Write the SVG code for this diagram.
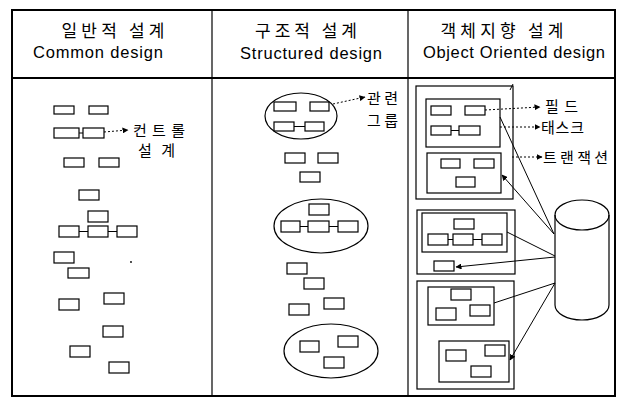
<svg xmlns="http://www.w3.org/2000/svg" width="619" height="398" viewBox="0 0 619 398">
<style>
.t{fill:none;stroke:#000;stroke-width:2}
.b{fill:#fff;stroke:#000;stroke-width:1.2}
.f{fill:none;stroke:#000;stroke-width:1.2}
.l{fill:none;stroke:#000;stroke-width:1}
.d{fill:none;stroke:#000;stroke-width:1;stroke-dasharray:2 2}
.ko{font-family:"Noto Sans CJK KR","Noto Sans",sans-serif;fill:#000}
.en{font-family:"Liberation Sans",Arial,sans-serif;fill:#000;font-size:16.5px}
.h{font-size:17px}
.s{font-size:15px}
</style>
<defs>
<marker id="ah" viewBox="0 0 6 6" refX="5.5" refY="3" markerWidth="6" markerHeight="6" markerUnits="userSpaceOnUse" orient="auto">
<path d="M0,0 L6,3 L0,6 Z" fill="#000"/>
</marker>
</defs>
<rect fill="#fff" width="619" height="398"/>
<g id="table">
<rect class="t" x="12" y="10" width="603" height="386"/>
<line class="t" x1="12" y1="78" x2="615" y2="78"/>
<line class="f" x1="212" y1="10" x2="212" y2="396"/>
<line class="f" x1="408" y1="10" x2="408" y2="396"/>
</g>
<g id="headers">
<text class="ko h" x="113" y="37" text-anchor="middle" textLength="103" lengthAdjust="spacing">일반적 설계</text>
<text class="en" x="98" y="58" text-anchor="middle" textLength="130" lengthAdjust="spacing">Common design</text>
<text class="ko h" x="306" y="37" text-anchor="middle" textLength="102" lengthAdjust="spacing">구조적 설계</text>
<text class="en" x="311" y="59" text-anchor="middle" textLength="142" lengthAdjust="spacing">Structured design</text>
<text class="ko h" x="502" y="37" text-anchor="middle" textLength="123" lengthAdjust="spacing">객체지향 설계</text>
<text class="en" x="514" y="58" text-anchor="middle" textLength="182" lengthAdjust="spacing">Object Oriented design</text>
</g>
<g id="common-design">
<rect class="b" x="54" y="106" width="20" height="8"/>
<rect class="b" x="89" y="106" width="19" height="8"/>
<rect class="b" x="54" y="128" width="25" height="10"/>
<rect class="b" x="83" y="128" width="21" height="10"/>
<rect class="b" x="64" y="158" width="20" height="9"/>
<rect class="b" x="99" y="158" width="20" height="9"/>
<rect class="b" x="79" y="190" width="20" height="10"/>
<rect class="b" x="88" y="211" width="20" height="11"/>
<rect class="b" x="59" y="226" width="20" height="11"/>
<rect class="b" x="88" y="226" width="20" height="11"/>
<rect class="b" x="117" y="226" width="20" height="11"/>
<rect class="b" x="54" y="252" width="20" height="11"/>
<rect class="b" x="68" y="268" width="21" height="10"/>
<circle cx="131" cy="262" r="0.9" fill="#000"/>
<rect class="b" x="59" y="299" width="20" height="11"/>
<rect class="b" x="104" y="293" width="20" height="11"/>
<rect class="b" x="103" y="326" width="20" height="11"/>
<rect class="b" x="70" y="346" width="20" height="11"/>
<rect class="b" x="109" y="362" width="20" height="11"/>
<text class="ko s" x="133" y="136" textLength="52" lengthAdjust="spacing">컨트롤</text>
<text class="ko s" x="138" y="156" textLength="37" lengthAdjust="spacing">설계</text>
</g>
<g id="structured-design">
<ellipse class="f" cx="301" cy="116" rx="36" ry="23"/>
<rect class="b" x="274" y="102" width="22" height="9"/>
<rect class="b" x="310" y="102" width="19" height="9"/>
<rect class="b" x="274" y="122" width="20" height="9"/>
<rect class="b" x="305" y="122" width="19" height="9"/>
<text class="ko s" x="367" y="104" textLength="31" lengthAdjust="spacing">관련</text>
<text class="ko s" x="367" y="126" textLength="31" lengthAdjust="spacing">그룹</text>
<rect class="b" x="285" y="153" width="20" height="10"/>
<rect class="b" x="318" y="153" width="20" height="10"/>
<rect class="b" x="300" y="172" width="20" height="10"/>
<ellipse class="f" cx="321" cy="226" rx="47" ry="27"/>
<rect class="b" x="309" y="204" width="20" height="11"/>
<rect class="b" x="281" y="221" width="19" height="11"/>
<rect class="b" x="308" y="221" width="21" height="11"/>
<rect class="b" x="338" y="221" width="20" height="11"/>
<rect class="b" x="287" y="263" width="20" height="11"/>
<rect class="b" x="304" y="278" width="20" height="11"/>
<rect class="b" x="289" y="304" width="20" height="11"/>
<rect class="b" x="324" y="298" width="20" height="11"/>
<ellipse class="f" cx="331" cy="351" rx="47" ry="27"/>
<rect class="b" x="300" y="341" width="19" height="11"/>
<rect class="b" x="338" y="336" width="20" height="11"/>
<rect class="b" x="324" y="357" width="20" height="11"/>
</g>
<g id="object-oriented-design">
<rect class="f" x="416" y="86" width="97" height="113"/>
<line class="l" x1="510" y1="90" x2="513" y2="84"/>
<rect class="f" x="426" y="99" width="74" height="48"/>
<rect class="b" x="431" y="106" width="20" height="9"/>
<rect class="b" x="465" y="106" width="20" height="9"/>
<rect class="b" x="431" y="126" width="20" height="9"/>
<rect class="b" x="459" y="126" width="21" height="9"/>
<rect class="f" x="427" y="153" width="74" height="40"/>
<rect class="b" x="441" y="159" width="19" height="9"/>
<rect class="b" x="474" y="159" width="20" height="9"/>
<rect class="b" x="456" y="177" width="19" height="10"/>
<text class="ko s" x="545" y="112" textLength="33" lengthAdjust="spacing">필드</text>
<text class="ko s" x="541" y="133" textLength="43" lengthAdjust="spacing">태스크</text>
<text class="ko s" x="543" y="163" textLength="65" lengthAdjust="spacing">트랜잭션</text>
<rect class="f" x="417" y="210" width="98" height="64"/>
<rect class="f" x="422" y="213" width="85" height="39"/>
<rect class="b" x="454" y="219" width="20" height="10"/>
<rect class="b" x="428" y="234" width="20" height="11"/>
<rect class="b" x="453" y="234" width="20" height="11"/>
<rect class="b" x="482" y="234" width="20" height="11"/>
<rect class="b" x="434" y="261" width="20" height="10"/>
<rect class="f" x="417" y="281" width="97" height="108"/>
<rect class="f" x="428" y="287" width="66" height="38"/>
<rect class="b" x="451" y="289" width="20" height="11"/>
<rect class="b" x="436" y="308" width="20" height="12"/>
<rect class="b" x="470" y="305" width="20" height="11"/>
<rect class="f" x="439" y="341" width="70" height="41"/>
<rect class="b" x="446" y="350" width="20" height="11"/>
<rect class="b" x="485" y="345" width="20" height="11"/>
<rect class="b" x="471" y="366" width="20" height="11"/>
</g>
<g id="database">
<path class="f" d="M555,215 A27,15 0 0 1 609,215 V305 A27,15 0 0 1 555,305 Z"/>
<path class="f" d="M555,215 A27,15 0 0 0 609,215"/>
</g>
<g id="connectors">
<line class="l" x1="79" y1="133" x2="83" y2="133"/>
<line class="d" x1="104" y1="132" x2="128" y2="130" marker-end="url(#ah)"/>
<line class="l" x1="79" y1="231.5" x2="88" y2="231.5"/>
<line class="l" x1="108" y1="231.5" x2="117" y2="231.5"/>
<line class="l" x1="294" y1="126.5" x2="305" y2="126.5"/>
<line class="d" x1="333" y1="104" x2="365" y2="97" marker-end="url(#ah)"/>
<line class="l" x1="300" y1="226.5" x2="308" y2="226.5"/>
<line class="l" x1="329" y1="226.5" x2="338" y2="226.5"/>
<line class="l" x1="451" y1="130.5" x2="459" y2="130.5"/>
<line class="d" x1="485" y1="110" x2="540" y2="107" marker-end="url(#ah)"/>
<line class="d" x1="500" y1="127" x2="540" y2="127" marker-end="url(#ah)"/>
<line class="d" x1="512" y1="157" x2="542" y2="157" marker-end="url(#ah)"/>
<line class="l" x1="448" y1="239.5" x2="453" y2="239.5"/>
<line class="l" x1="473" y1="239.5" x2="482" y2="239.5"/>
<line class="l" x1="500" y1="117" x2="554" y2="234"/>
<line class="l" x1="554" y1="234" x2="502" y2="175" marker-end="url(#ah)"/>
<line class="l" x1="507" y1="232" x2="555" y2="256"/>
<line class="l" x1="555" y1="257" x2="456" y2="267" marker-end="url(#ah)"/>
<line class="l" x1="494" y1="303" x2="555" y2="283"/>
<line class="l" x1="555" y1="283" x2="510" y2="360" marker-end="url(#ah)"/>
</g>
</svg>
